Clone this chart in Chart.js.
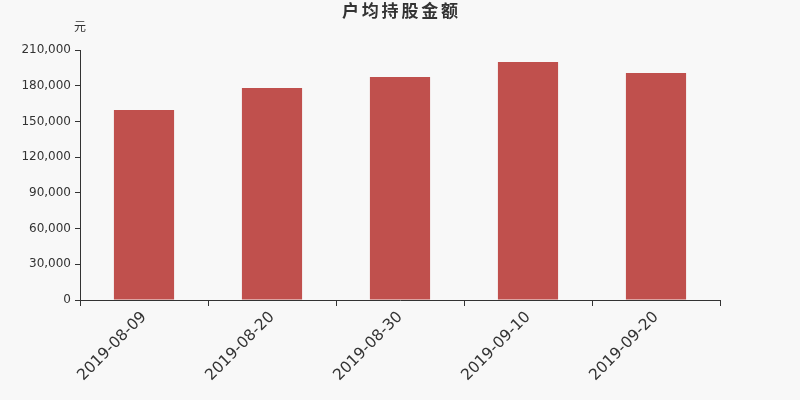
<!DOCTYPE html>
<html>
<head>
<meta charset="utf-8">
<script src="https://cdn.jsdelivr.net/npm/chart.js@4"></script>
<style>
  html, body { margin: 0; padding: 0; background: #f8f8f8; }
  #wrap { width: 800px; height: 400px; }
</style>
</head>
<body>
<div id="wrap"><canvas id="c" width="800" height="400"></canvas></div>
<script>
// 户均持股金额 — bar chart
const dates  = ['2019-08-09', '2019-08-20', '2019-08-30', '2019-09-10', '2019-09-20'];
const values = [159600, 178100, 187300, 199900, 190700];
const yTicks = [0, 30000, 60000, 90000, 120000, 150000, 180000, 210000];
const title  = '户均持股金额';

const FONT = "'DejaVu Sans', 'Noto Sans CJK SC', sans-serif";
const TEXT = '#333333';

// title (spaced out a bit) + unit label
const headerPlugin = {
  id: 'header',
  afterDraw(chart) {
    const ctx = chart.ctx;
    ctx.save();
    ctx.fillStyle = TEXT;
    ctx.textAlign = 'center';
    ctx.textBaseline = 'middle';
    ctx.font = 'bold 17px ' + FONT;
    const step = 19.8;
    const x0 = 400 - step * (title.length - 1) / 2;
    [...title].forEach((ch, i) => ctx.fillText(ch, x0 + i * step, 13));
    ctx.font = '12px ' + FONT;
    ctx.fillText('元', chart.chartArea.left, 28);
    ctx.restore();
  }
};

new Chart(document.getElementById('c'), {
  type: 'bar',
  data: {
    labels: dates,
    datasets: [{
      data: values,
      backgroundColor: '#c0504d',
      barPercentage: 0.94,
      categoryPercentage: 0.5,
    }]
  },
  options: {
    responsive: false,
    animation: false,
    layout: { padding: { top: 50, right: 80, left: 0, bottom: 0 } },
    plugins: { legend: { display: false }, tooltip: { enabled: false } },
    scales: {
      x: {
        grid: { display: true, drawOnChartArea: false, drawTicks: true, tickLength: 6, color: TEXT, offset: true },
        border: { display: true, color: TEXT, width: 1 },
        ticks: { color: TEXT, font: { family: FONT, size: 15.5 }, minRotation: 45, maxRotation: 45, padding: 2 },
        afterFit: s => { s.height = 100; }
      },
      y: {
        min: 0, max: 210000,
        afterBuildTicks: s => { s.ticks = yTicks.map(v => ({ value: v })); },
        grid: { display: true, drawOnChartArea: false, drawTicks: true, tickLength: 5, color: TEXT },
        border: { display: true, color: TEXT, width: 1 },
        ticks: { color: TEXT, font: { family: FONT, size: 12 }, padding: 4,
                 callback: v => v.toLocaleString('en-US') },
        afterFit: s => { s.width = 80; }
      }
    }
  },
  plugins: [headerPlugin]
});
</script>
</body>
</html>
